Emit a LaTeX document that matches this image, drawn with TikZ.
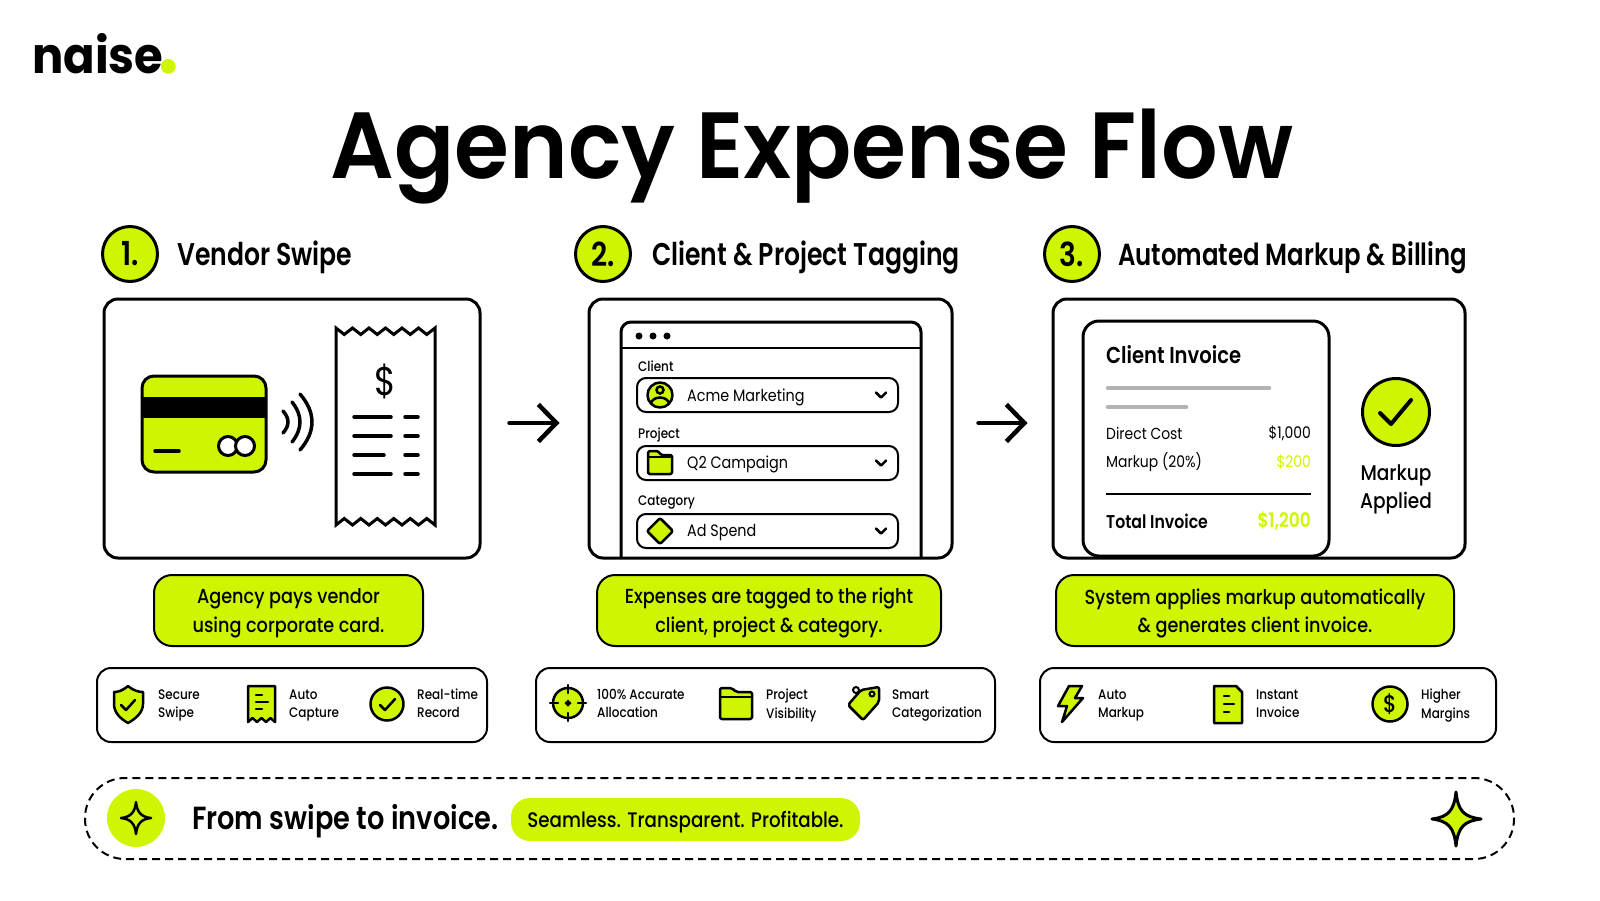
\documentclass[tikz,border=0pt]{standalone}
\usepackage{fontspec}
\setmainfont{Poppins}[BoldFont=Poppins SemiBold]
\newfontfamily\regfont{Poppins}[FakeStretch=0.87]
\newfontfamily\medfont{Poppins Medium}[FakeStretch=0.87]
\newfontfamily\semifont{Poppins SemiBold}[FakeStretch=0.85]
\newfontfamily\headfont{Poppins SemiBold}[FakeStretch=0.8]
\newfontfamily\titlefont{Poppins SemiBold}[FakeStretch=0.945]
\newfontfamily\logofont{Poppins Bold}[FakeStretch=0.93]
\usetikzlibrary{arrows.meta,positioning}
\definecolor{lime}{HTML}{CFF500}
\newcommand{\fsz}[1]{\fontsize{#1}{#1}\selectfont}

\begin{document}
\begin{tikzpicture}[
  x=1pt, y=-1pt,
  >={Straight Barb[length=18pt,width=37pt,line width=4.5pt]},
  panel/.style={draw, line width=3pt, rounded corners=14pt, minimum height=259pt, inner sep=0pt},
  stepnum/.style={circle, draw, line width=3pt, fill=lime, minimum size=55pt, inner sep=0pt, font=\semifont\fsz{33}},
  stephead/.style={anchor=base west, inner sep=0pt, font=\headfont\fsz{30.5}},
  note/.style={draw, line width=2pt, fill=lime, rounded corners=18pt, minimum height=71pt, align=center, font=\medfont\fsz{20.3}, inner sep=0pt, text depth=0pt},
  strip/.style={draw, line width=2pt, rounded corners=14pt, minimum height=74pt, inner sep=0pt},
  feat/.style={anchor=west, align=left, inner sep=0pt, font=\medfont\fsz{13.8}, text depth=0pt},
  field/.style={draw, line width=2pt, rounded corners=9pt, minimum width=261pt, minimum height=34pt, inner sep=0pt},
  flabel/.style={anchor=base west, inner sep=0pt, font=\medfont\fsz{13.8}},
  fvalue/.style={anchor=base west, inner sep=0pt, font=\regfont\fsz{16.5}},
  icon/.style={draw, line width=2.5pt, fill=lime, line join=round, line cap=round},
  thin/.style={line width=3.5pt, line cap=round},
  row/.style={inner sep=0pt, font=\regfont\fsz{16}}
]
\useasboundingbox (0,0) rectangle (1600,900);

% logo and title
\node[anchor=base west, inner sep=0pt, font=\logofont\fsz{50}] (logo) at (32,73) {naise\hspace{-5pt}\textcolor{lime}{\fsz{78}.}};
\node[anchor=base, inner sep=0pt, font=\titlefont\fsz{94}] (title) at (812,178) {Agency Expense Flow};

% steps
\node[stepnum] (n1) at (130,254) {1.};
\node[stepnum] (n2) at (603,254) {2.};
\node[stepnum] (n3) at (1072,254) {3.};
\node[stephead, font=\headfont\fsz{31.4}] (h1) at (177,265) {Vendor Swipe};
\node[stephead, font=\headfont\fsz{31.4}] (h2) at (652,265) {Client \& Project Tagging};
\node[stephead] (h3) at (1118,265) {Automated Markup \& Billing};

% panels
\node[panel, minimum width=376pt] (p1) at (292,428.5) {};
\node[panel, minimum width=363pt] (p2) at (770.5,428.5) {};
\node[panel, minimum width=412pt] (p3) at (1259,428.5) {};
\draw[->, line width=4.5pt, line cap=round, shorten <=28pt, shorten >=28pt] ([yshift=5.5pt]p1.east) -- ([yshift=5.5pt]p2.west);
\draw[->, line width=4.5pt, line cap=round, shorten <=25pt, shorten >=24pt] ([yshift=5.5pt]p2.east) -- ([yshift=5.5pt]p3.west);

% card and receipt
\draw[icon, line width=3pt, rounded corners=12pt] (142,376) rectangle (266,472);
\fill (142,397) rectangle (266,418);
\draw[thin] (155,451) -- (179,451);
\draw[line width=3pt, fill=white] (228,446) circle (9.5);
\draw[line width=3pt, fill=white] (245,446) circle (9.5);
\foreach \x/\h/\b in {283/11/5, 292/20/8, 300/28/12}
  \draw[line width=3.5pt, line cap=round] (\x,422-\h) .. controls (\x+\b*1.33,422-\h/3) and (\x+\b*1.33,422+\h/3) .. (\x,422+\h);
\draw[line width=3pt, line join=miter] (336,328)
  \foreach \i in {1,...,6} { -- ++(8.25,6.5) -- ++(8.25,-6.5) } -- (435,525)
  \foreach \i in {1,...,6} { -- ++(-8.25,-6.5) -- ++(-8.25,6.5) } -- cycle;
\node[font=\regfont\fsz{40}, inner sep=0pt] (dollar) at (385.5,381) {\$};
\foreach \y/\e in {417/391, 436/391, 455/384, 474/391} {
  \draw[thin] (354,\y) -- (\e,\y);
  \draw[thin] (405,\y) -- (418,\y);
}

% form window
\draw[line width=3pt, rounded corners=10pt] (621,558) -- (621,322) -- (921,322) -- (921,558);
\draw[line width=2pt] (621,348) -- (921,348);
\foreach \x in {639,653,667} \fill (\x,336) circle (3.5);
\node[flabel] (lc) at (638,371) {Client};
\node[flabel] (lp) at (638,438) {Project};
\node[flabel] (lk) at (638,505) {Category};
\node[field] (f1) at (767.5,395) {};
\node[field] (f2) at (767.5,463) {};
\node[field] (f3) at (767.5,531) {};
\node[fvalue] (v1) at (687,401) {Acme Marketing};
\node[fvalue] (v2) at (687,468.5) {Q2 Campaign};
\node[fvalue] (v3) at (687,536.5) {Ad Spend};
\foreach \y in {395,463,531} \draw[line width=2.5pt, line cap=round, line join=round] (876,\y-2.5) -- (881,\y+2.5) -- (886,\y-2.5);
\draw[icon] (660,395) circle (12.5);
\draw[line width=2.5pt] (660,390) circle (3.5);
\draw[line width=2.5pt] (651,404) arc (180:360:9 and 6.5);
\draw[icon, rounded corners=1.5pt] (648,474) -- (648,451) -- (658,451) -- (661,455) -- (672,455) -- (672,474) -- cycle;
\draw[line width=2pt] (648,457) -- (672,457);
\draw[icon, rounded corners=2pt] (660,518) -- (673,531) -- (660,544) -- (647,531) -- cycle;

% invoice
\draw[line width=3pt, fill=white, rounded corners=16pt] (1083,321) rectangle (1329,556);
\node[anchor=west, inner sep=0pt, font=\semifont\fsz{23}] (it) at (1106,355) {Client Invoice};
\draw[line width=4.5pt, line cap=round, draw=black!30] (1108,388) -- (1269,388);
\draw[line width=4.5pt, line cap=round, draw=black!30] (1108,407) -- (1186,407);
\node[row, anchor=west] (r1) at (1106,433) {Direct Cost};
\node[row, anchor=east] (a1) at (1311,433) {\$1,000};
\node[row, anchor=west] (r2) at (1106,462) {Markup (20\%)};
\node[row, anchor=east, text=lime] (a2) at (1311,462) {\$200};
\draw[line width=2pt] (1106,494) -- (1311,494);
\node[row, anchor=west, font=\semifont\fsz{18.5}] (r3) at (1106,521) {Total Invoice};
\node[row, anchor=east, text=lime, font=\semifont\fsz{20}] (a3) at (1311,521) {\$1,200};
\draw[icon, line width=3pt] (1396,412) circle (33.5);
\draw[line width=4pt, line cap=round, line join=round] (1380,413) -- (1391,424) -- (1411,400);
\node[align=center, inner sep=0pt, font=\medfont\fsz{21.3}, text depth=0pt] (ma) at (1396,487) {Markup\\[5pt]Applied};

% notes
\node[note, minimum width=269pt] (t1) at (288.5,610.5) {Agency pays vendor\\[6.6pt]using corporate card.};
\node[note, minimum width=344pt] (t2) at (769,610.5) {Expenses are tagged to the right\\[6.6pt]client, project \& category.};
\node[note, minimum width=398pt] (t3) at (1255,610.5) {System applies markup automatically\\[6.6pt]\& generates client invoice.};

% feature strips
\node[strip, minimum width=390pt] (s1) at (292,705) {};
\node[strip, minimum width=459pt] (s2) at (765.5,705) {};
\node[strip, minimum width=456pt] (s3) at (1268,705) {};
\node[feat] (a) at (158,703.5) {Secure\\[4.2pt]Swipe};
\node[feat] (b) at (289,703.5) {Auto\\[4.2pt]Capture};
\node[feat] (c) at (417,703.5) {Real-time\\[4.2pt]Record};
\node[feat] (d) at (597,703.5) {100\% Accurate\\[4.2pt]Allocation};
\node[feat] (e) at (766,703.5) {Project\\[4.2pt]Visibility};
\node[feat] (f) at (892,703.5) {Smart\\[4.2pt]Categorization};
\node[feat] (g) at (1098,703.5) {Auto\\[4.2pt]Markup};
\node[feat] (h) at (1256,703.5) {Instant\\[4.2pt]Invoice};
\node[feat] (k) at (1421,703.5) {Higher\\[4.2pt]Margins};

% shield
\draw[icon] (128,686) .. controls (134,691) and (139,692) .. (143,692) -- (143,704) .. controls (143,713) and (135,719) .. (128,723) .. controls (121,719) and (114,713) .. (114,704) -- (114,692) .. controls (118,692) and (122,691) .. (128,686) -- cycle;
\draw[line width=2.5pt, line cap=round, line join=round] (121,705) -- (126,710) -- (135,700);
% small receipt
\draw[icon] (248,686) -- (275,686) -- (275,722)
  \foreach \i in {1,2,3} { -- ++(-4.5,-4) -- ++(-4.5,4) } -- cycle;
\draw[line width=2.5pt, line cap=round] (256,695) -- (262,695) (256,702) -- (268,702) (256,709) -- (262,709);
% check circle
\draw[icon] (387,704) circle (16.5);
\draw[line width=2.5pt, line cap=round, line join=round] (380,705) -- (385,710) -- (395,699);
% target
\draw[icon] (568,703) circle (15);
\draw[line width=2.5pt, line cap=round] (568,685) -- (568,693) (568,713) -- (568,721) (550,703) -- (558,703) (578,703) -- (586,703);
\fill (568,699.5) -- (571.5,703) -- (568,706.5) -- (564.5,703) -- cycle;
% folder
\draw[icon, rounded corners=2pt] (720,719) -- (720,688) -- (732,688) -- (736,692) -- (752,692) -- (752,719) -- cycle;
\draw[line width=2.5pt] (720,697) -- (752,697);
% tag
\draw[icon, rounded corners=2pt] (861,690) -- (879,687) -- (879,702) -- (863,720) -- (848,705) -- cycle;
\draw[line width=2pt] (872,694) circle (2.5);
\draw[line width=2pt] (856,690) circle (3);
% bolt
\draw[icon] (1069,686) -- (1082,686) -- (1075,698) -- (1083,698) -- (1062,722) -- (1067,706) -- (1058,706) -- cycle;
% document
\draw[icon] (1214,686) -- (1236,686) -- (1242,692) -- (1242,723) -- (1214,723) -- cycle;
\draw[line width=2.5pt, line cap=round] (1224,696) -- (1229,696) (1224,704) -- (1234,704) (1224,712) -- (1229,712);
% dollar
\draw[icon] (1390,704) circle (17.5);
\node[font=\medfont\fsz{24}, inner sep=0pt] (dl) at (1390,704) {\$};

% footer
\draw[line width=2pt, dash pattern=on 8pt off 5pt, rounded corners=40pt] (85,778) rectangle (1514,859);
\fill[lime] (136,818) circle (29);
\draw[line width=2.5pt, line join=round] (136,802) .. controls (137,812) and (141,817) .. (151,818) .. controls (141,819) and (137,824) .. (136,834) .. controls (135,824) and (131,819) .. (121,818) .. controls (131,817) and (135,812) .. (136,802) -- cycle;
\node[anchor=base west, inner sep=0pt, font=\semifont\fsz{32}] (slogan) at (192,829) {From swipe to invoice.};
\node[fill=lime, rounded corners=19pt, minimum width=349pt, minimum height=43pt, inner sep=0pt, font=\medfont\fsz{21}, text height=15pt, text depth=0pt] (claim) at (685.5,819.5) {Seamless. Transparent. Profitable.};
\draw[icon, line width=3pt] (1456,792) .. controls (1458,811) and (1464,817) .. (1481,819) .. controls (1464,821) and (1458,827) .. (1456,846) .. controls (1454,827) and (1448,821) .. (1432,819) .. controls (1448,817) and (1454,811) .. (1456,792) -- cycle;
\end{tikzpicture}
\end{document}
